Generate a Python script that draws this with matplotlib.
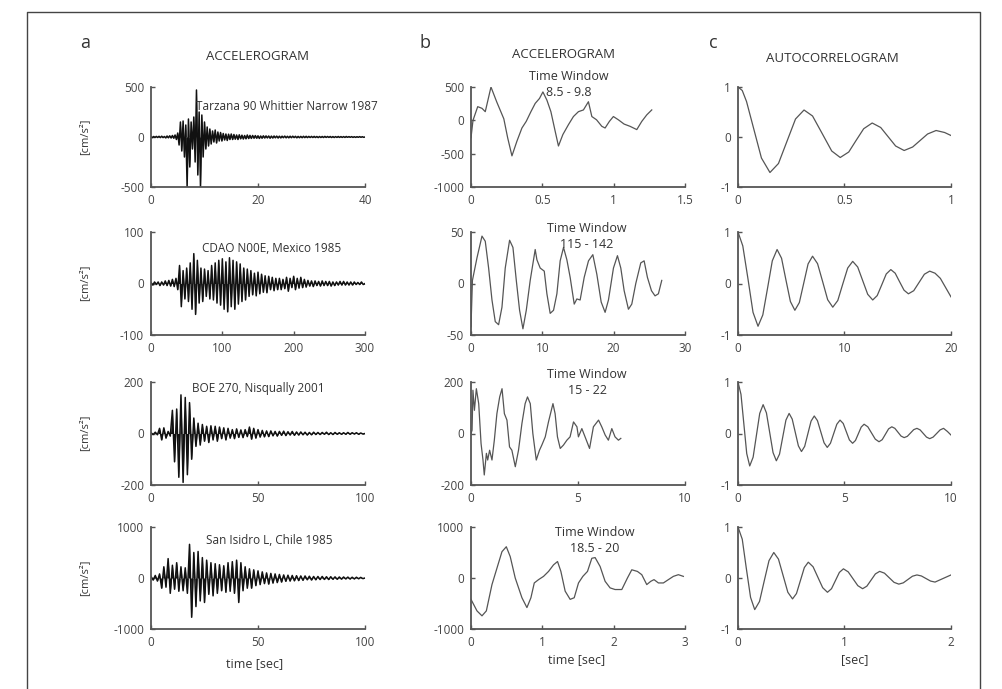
import numpy as np
import matplotlib.pyplot as plt

plt.rcParams['font.family'] = ['Open Sans', 'DejaVu Sans']
plt.rcParams['axes.unicode_minus'] = False

# ---- column a: accelerograms (peak values) ----
dt_tarzana = 0.25
acc_tarzana = [4, -6, 5, -4, 6, -5, 7, -6, 8, -6, 5, -9, 10, -8, 12, -10,
               15, -12, 20, -25, 40, -80, 150, -140, 160, -200, 120, -500,
               180, -300, 150, -120, 200, -250, 470, -380, 250, -500, 220, -200,
               150, -120, 100, -90, 80, -70, 60, -50, 70, -60, 50, -40,
               45, -40, 35, -30, 30, -35, 28, -25, 30, -25, 25, -22,
               20, -25, 22, -18, 18, -20, 15, -18, 20, -15, 16, -14,
               15, -12, 14, -12, 12, -14, 10, -12, 12, -10, 11, -9,
               10, -12, 9, -10, 10, -8, 9, -10, 8, -9, 8, -7, 9, -8, 7, -8,
               8, -7, 8, -6, 7, -8, 6, -7, 6, -7, 7, -6, 7, -6, 6, -5,
               6, -5, 6, -5, 5, -6, 5, -5, 5, -5, 6, -4, 5, -4, 5, -5,
               4, -5, 4, -4, 5, -4, 4, -4, 4, -4, 5, -3, 4, -3, 4, -4,
               3, -4, 3, -3, 4, -3, 3, -3, 0]

dt_cdao = 2.5
acc_cdao = [2, -3, 3, -2, 3, -4, 3, -3, 5, -4, 6, -5, 8, -6, 10, -12,
            35, -45, 25, -30, 30, -35, 40, -50, 58, -60, 45, -38, 30, -35, 28, -25,
            25, -30, 35, -32, 40, -38, 45, -42, 48, -50, 42, -55, 50, -45, 45, -50,
            42, -40, 38, -35, 30, -32, 28, -25, 25, -22, 20, -24, 22, -20, 18, -17,
            15, -18, 14, -12, 12, -14, 10, -12, 10, -12, 8, -10, 12, -15, 10, -8,
            14, -12, 10, -9, 12, -8, 8, -7, 6, -5, 5, -6, 5, -4, 4, -5,
            5, -4, 4, -4, 4, -5, 3, -4, 3, -3, 4, -3, 4, -3, 3, -3,
            3, -3, 3, -2, 2, -2, 3, -2, 0]

dt_boe = 1.0
acc_boe = [3, -4, 5, -5, 20, -25, 22, -18, 8, -10,
           90, -110, 95, -170, 150, -190, 140, -160, 120, -100,
           60, -50, 40, -45, 35, -30, 28, -35, 30, -25,
           28, -30, 25, -20, 22, -25, 20, -18, 15, -20,
           18, -15, 14, -16, 15, -12, 25, -22, 20, -18,
           15, -14, 12, -13, 10, -12, 10, -9, 8, -10,
           8, -7, 9, -8, 7, -6, 8, -7, 6, -6,
           6, -5, 5, -6, 4, -5, 5, -4, 4, -4,
           4, -3, 5, -4, 3, -4, 4, -3, 3, -3,
           3, -3, 4, -3, 3, -2, 3, -3, 2, -2, 0]

dt_isidro = 1.0
acc_isidro = [30, -40, 50, -60, 80, -200, 220, -180, 380, -300,
              250, -220, 300, -260, 220, -250, 200, -300, 660, -770,
              500, -560, 520, -450, 400, -480, 350, -320, 300, -350,
              280, -300, 260, -250, 240, -280, 300, -260, 320, -300,
              350, -480, 300, -250, 220, -200, 180, -200, 160, -150,
              140, -130, 120, -110, 100, -120, 90, -100, 80, -90,
              70, -80, 60, -65, 55, -60, 50, -55, 45, -50,
              40, -45, 40, -35, 35, -40, 30, -35, 30, -30,
              30, -28, 25, -30, 25, -25, 22, -25, 20, -22,
              20, -18, 18, -20, 15, -18, 15, -15, 12, -12, 0]

# ---- column b: time windows ----
win1_t = [0, 0.014, 0.047, 0.077, 0.1, 0.14, 0.18, 0.23, 0.257, 0.287, 0.322, 0.357,
          0.387, 0.42, 0.45, 0.48, 0.504, 0.532, 0.56, 0.59, 0.613, 0.644, 0.683,
          0.718, 0.753, 0.788, 0.823, 0.847, 0.88, 0.917, 0.94, 0.97, 0.998, 1.033,
          1.073, 1.115, 1.162, 1.197, 1.232, 1.267]
win1_v = [-262, 0, 205, 180, 130, 500, 278, 23, -262, -533, -312, -115,
          -16, 130, 254, 328, 426, 303, 130, -164, -385, -213, -65,
          57, 130, 156, 279, 57, 8, -90, -115, -16, 57, 8,
          -56, -90, -139, -16, 82, 156]

win2_t = [0, 0.2, 0.84, 1.54, 2.0, 2.47, 2.94, 3.4, 3.87, 4.34, 4.8, 5.41, 5.88, 6.35,
          6.81, 7.28, 7.75, 8.3, 9.0, 9.24, 9.7, 10.27, 10.64, 11.1, 11.57, 12.04,
          12.5, 12.97, 13.44, 13.9, 14.47, 14.84, 15.3, 15.87, 16.47, 17.08, 17.64,
          18.25, 18.8, 19.27, 19.97, 20.53, 21.0, 21.47, 22.07, 22.54, 23.1, 23.8,
          24.27, 24.73, 25.3, 25.8, 26.27, 26.74]
win2_v = [-42, 3, 25, 46, 41, 15, -16, -37, -40, -23, 15, 42, 35, 3,
          -26, -44, -26, 3, 33, 23, 15, 12, -10, -29, -26, -10,
          22, 35, 23, 6, -20, -15, -16, 6, 22, 28, 9,
          -18, -28, -16, 15, 27, 15, -7, -25, -20, 0, 20,
          22, 6, -7, -12, -10, 3]

win3_t = [0, 0.05, 0.09, 0.16, 0.25, 0.36, 0.47, 0.56, 0.62, 0.72, 0.78, 0.87, 0.98,
          1.09, 1.21, 1.34, 1.45, 1.56, 1.68, 1.8, 1.91, 2.07, 2.22, 2.38, 2.53,
          2.64, 2.77, 2.89, 3.05, 3.2, 3.31, 3.47, 3.62, 3.83, 3.93, 4.04, 4.17,
          4.32, 4.48, 4.63, 4.79, 4.95, 5.02, 5.18, 5.33, 5.54, 5.72, 5.96, 6.11,
          6.27, 6.42, 6.58, 6.73, 6.89, 7.0]
win3_v = [0, 13, 168, 90, 174, 116, -39, -103, -161, -77, -103, -65, -103,
          -26, 77, 142, 174, 77, 52, -52, -65, -129, -65, 39, 116,
          142, 116, 0, -103, -65, -45, -13, 45, 116, 77, -13, -58,
          -45, -26, -13, 45, 26, -13, 19, -13, -58, 26, 52, 26,
          -6, -26, 19, -13, -26, -19]

win4_t = [0, 0.084, 0.154, 0.215, 0.294, 0.364, 0.434, 0.495, 0.55, 0.62, 0.714, 0.784,
          0.84, 0.887, 0.947, 1.017, 1.087, 1.157, 1.213, 1.26, 1.32, 1.39, 1.447,
          1.507, 1.568, 1.633, 1.694, 1.74, 1.81, 1.88, 1.95, 2.02, 2.114, 2.193,
          2.254, 2.333, 2.394, 2.464, 2.52, 2.566, 2.627, 2.697, 2.767, 2.837,
          2.907, 2.977]
win4_v = [-419, -645, -742, -645, -129, 194, 516, 613, 419, 0, -387, -580,
          -387, -97, -32, 32, 129, 258, 323, 129, -258, -419, -387,
          -97, 32, 129, 387, 400, 226, -65, -194, -226, -226, 0,
          161, 129, 65, -129, -65, -32, -97, -97, -32, 32,
          65, 32]

# ---- column c: autocorrelograms ----
ac1_t = [0, 0.02, 0.04, 0.075, 0.11, 0.15, 0.19, 0.23, 0.27, 0.31, 0.35, 0.39, 0.44,
         0.48, 0.52, 0.555, 0.59, 0.63, 0.67, 0.705, 0.74, 0.78, 0.82, 0.855, 0.89,
         0.93, 0.97, 1.0]
ac1_v = [1, 0.93, 0.71, 0.145, -0.42, -0.71, -0.53, -0.085, 0.36, 0.54, 0.42, 0.11, -0.28,
         -0.41, -0.30, -0.065, 0.165, 0.28, 0.19, 0.005, -0.18, -0.27, -0.20, -0.07, 0.06,
         0.13, 0.09, 0.03]

ac2_t = [0, 0.45, 0.94, 1.41, 1.88, 2.33, 2.78, 3.22, 3.67, 4.09, 4.5, 4.92, 5.34,
         5.76, 6.17, 6.58, 7.0, 7.47, 7.95, 8.42, 8.9, 9.37, 9.83, 10.3, 10.77,
         11.24, 11.71, 12.18, 12.65, 13.07, 13.5, 13.92, 14.35, 14.76, 15.17, 15.59,
         16.0, 16.5, 17.0, 17.5, 18.0, 18.5, 19.0, 19.5, 20.0]
ac2_v = [1, 0.73, 0.085, -0.56, -0.83, -0.61, -0.085, 0.44, 0.66, 0.49, 0.07, -0.35, -0.52,
         -0.37, 0.005, 0.38, 0.53, 0.385, 0.035, -0.315, -0.46, -0.33, -0.015, 0.30, 0.43,
         0.32, 0.055, -0.21, -0.32, -0.235, -0.025, 0.185, 0.27, 0.20, 0.035, -0.13,
         -0.20, -0.14, 0.02, 0.18, 0.24, 0.20, 0.10, -0.08, -0.26]

ac3_t = [0, 0.14, 0.275, 0.41, 0.55, 0.71, 0.865, 1.02, 1.18, 1.335, 1.49, 1.645, 1.8,
         1.95, 2.1, 2.25, 2.4, 2.545, 2.69, 2.835, 2.98, 3.13, 3.28, 3.43, 3.58,
         3.73, 3.885, 4.04, 4.19, 4.34, 4.49, 4.64, 4.79, 4.94, 5.085, 5.23, 5.38,
         5.515, 5.65, 5.785, 5.92, 6.095, 6.27, 6.445, 6.62, 6.77, 6.92, 7.07, 7.22,
         7.365, 7.51, 7.655, 7.8, 7.95, 8.1, 8.25, 8.4, 8.55, 8.7, 8.85, 9.0,
         9.16, 9.325, 9.49, 9.65, 9.83, 10.0]
ac3_v = [1, 0.76, 0.185, -0.39, -0.63, -0.46, -0.035, 0.39, 0.56, 0.40, 0.015, -0.37, -0.53,
         -0.40, -0.07, 0.26, 0.39, 0.28, 0.02, -0.24, -0.35, -0.25, -0.005, 0.24, 0.34,
         0.25, 0.035, -0.18, -0.27, -0.19, -0.005, 0.18, 0.26, 0.195, 0.035, -0.125, -0.19,
         -0.135, -0.005, 0.125, 0.18, 0.13, 0.01, -0.11, -0.16, -0.12, -0.015, 0.09, 0.13,
         0.10, 0.025, -0.05, -0.08, -0.055, 0.01, 0.075, 0.10, 0.07, 0.0, -0.07, -0.10,
         -0.07, 0.0, 0.07, 0.10, 0.04, -0.03]

ac4_t = [0, 0.04, 0.078, 0.118, 0.157, 0.202, 0.246, 0.291, 0.336, 0.38, 0.424, 0.468,
         0.512, 0.549, 0.586, 0.623, 0.66, 0.705, 0.75, 0.795, 0.84, 0.878, 0.915, 0.952,
         0.99, 1.035, 1.08, 1.125, 1.17, 1.21, 1.25, 1.29, 1.33, 1.375, 1.42, 1.465,
         1.51, 1.552, 1.595, 1.638, 1.68, 1.722, 1.765, 1.808, 1.85, 1.925, 2.0]
ac4_v = [1, 0.76, 0.19, -0.38, -0.62, -0.46, -0.06, 0.34, 0.50, 0.37, 0.045, -0.28,
         -0.41, -0.305, -0.05, 0.205, 0.31, 0.22, 0.015, -0.19, -0.28, -0.21, -0.05, 0.11,
         0.18, 0.12, -0.015, -0.15, -0.21, -0.16, -0.04, 0.08, 0.13, 0.095, 0.005, -0.085,
         -0.12, -0.095, -0.03, 0.035, 0.06, 0.04, -0.01, -0.06, -0.08, -0.01, 0.06]

station_names = ['Tarzana 90 Whittier Narrow 1987', 'CDAO N00E, Mexico 1985',
                 'BOE 270, Nisqually 2001', 'San Isidro L, Chile 1985']
windows = ['8.5 - 9.8', '115 - 142', '15 - 22', '18.5 - 20']

acc_list = [(acc_tarzana, dt_tarzana), (acc_cdao, dt_cdao), (acc_boe, dt_boe), (acc_isidro, dt_isidro)]
win_list = [(win1_t, win1_v), (win2_t, win2_v), (win3_t, win3_v), (win4_t, win4_v)]
ac_list = [(ac1_t, ac1_v), (ac2_t, ac2_v), (ac3_t, ac3_v), (ac4_t, ac4_v)]

a_xlim = [40, 300, 100, 100]
a_yticks = [[-500, 0, 500], [-100, 0, 100], [-200, 0, 200], [-1000, 0, 1000]]
a_xticks = [[0, 20, 40], [0, 100, 200, 300], [0, 50, 100], [0, 50, 100]]
b_xticks = [[0, 0.5, 1, 1.5], [0, 10, 20, 30], [0, 5, 10], [0, 1, 2, 3]]
b_xlabels = [['0', '0.5', '1', '1.5'], ['0', '10', '20', '30'], ['0', '5', '10'], ['0', '1', '2', '3']]
b_yticks = [[-1000, -500, 0, 500], [-50, 0, 50], [-200, 0, 200], [-1000, 0, 1000]]
c_xticks = [[0, 0.5, 1], [0, 10, 20], [0, 5, 10], [0, 1, 2]]
c_xlabels = [['0', '0.5', '1'], ['0', '10', '20'], ['0', '5', '10'], ['0', '1', '2']]

W, H = 1003, 689
fig = plt.figure(figsize=(W / 100, H / 100), dpi=100)

col_x = [(151, 365), (471, 685), (738, 951)]
row_y = [(87, 187), (232, 335), (382, 485), (527, 629)]
txt = '#333333'
axc = '#555555'


def make_ax(c, r):
    x0, x1 = col_x[c]
    y0, y1 = row_y[r]
    ax = fig.add_axes([x0 / W, 1 - y1 / H, (x1 - x0) / W, (y1 - y0) / H])
    for s in ['top', 'right']:
        ax.spines[s].set_visible(False)
    for s in ['left', 'bottom']:
        ax.spines[s].set_color(axc)
        ax.spines[s].set_linewidth(1.3)
    ax.tick_params(direction='in', length=3, width=1, color=axc,
                   labelsize=8.5, labelcolor='#444444', pad=5)
    return ax


def ftext(x, y, s, **kw):
    fig.text(x / W, 1 - y / H, s, ha='center', va='center', color=txt, **kw)


for r in range(4):
    # accelerogram
    vals, dt = acc_list[r]
    t = np.arange(len(vals)) * dt
    ax = make_ax(0, r)
    ax.fill_between(t, vals, 0, color='#111111', lw=0)
    ax.plot(t, vals, color='#111111', lw=1.1)
    ax.set_xlim(0, a_xlim[r])
    ax.set_ylim(a_yticks[r][0], a_yticks[r][-1])
    ax.set_xticks(a_xticks[r])
    ax.set_yticks(a_yticks[r])

    # time window
    ax = make_ax(1, r)
    ax.plot(win_list[r][0], win_list[r][1], color='#555555', lw=0.9)
    ax.set_xlim(b_xticks[r][0], b_xticks[r][-1])
    ax.set_ylim(b_yticks[r][0], b_yticks[r][-1])
    ax.set_xticks(b_xticks[r])
    ax.set_xticklabels(b_xlabels[r])
    ax.set_yticks(b_yticks[r])

    # autocorrelogram
    ax = make_ax(2, r)
    ax.plot(ac_list[r][0], ac_list[r][1], color='#555555', lw=0.9)
    ax.set_xlim(c_xticks[r][0], c_xticks[r][-1])
    ax.set_ylim(-1, 1)
    ax.set_xticks(c_xticks[r])
    ax.set_xticklabels(c_xlabels[r])
    ax.set_yticks([-1, 0, 1])

# y labels
for yc in [137, 283, 433, 578]:
    ftext(85, yc, '[cm/s²]', fontsize=8, rotation=90)

# station names
for (x, y), s in zip([(287, 106), (272, 248), (258, 388), (269, 540)], station_names):
    ftext(x, y, s, fontsize=8.5)

# time windows
for (x, y), s in zip([(569, 77), (587, 229), (587, 375), (595, 533)], windows):
    ftext(x, y, 'Time Window', fontsize=9)
    ftext(x, y + 15, s, fontsize=9)

# column headers
ftext(258, 57, 'ACCELEROGRAM', fontsize=9.5)
ftext(563, 55, 'ACCELEROGRAM', fontsize=9.5)
ftext(832, 58, 'AUTOCORRELOGRAM', fontsize=9.5)
ftext(85, 43, 'a', fontsize=13)
ftext(425, 43, 'b', fontsize=13)
ftext(713, 43, 'c', fontsize=13)

# x labels
ftext(255, 664, 'time [sec]', fontsize=9)
ftext(577, 660, 'time [sec]', fontsize=9)
ftext(855, 660, '[sec]', fontsize=9)

# outer frame
fx = [27 / W, 27 / W, 980 / W, 980 / W]
fy = [0, 1 - 12 / H, 1 - 12 / H, 0]
fig.add_artist(plt.Line2D(fx, fy, color='#444444', lw=1.0))

fig.savefig('out.png', dpi=100)
